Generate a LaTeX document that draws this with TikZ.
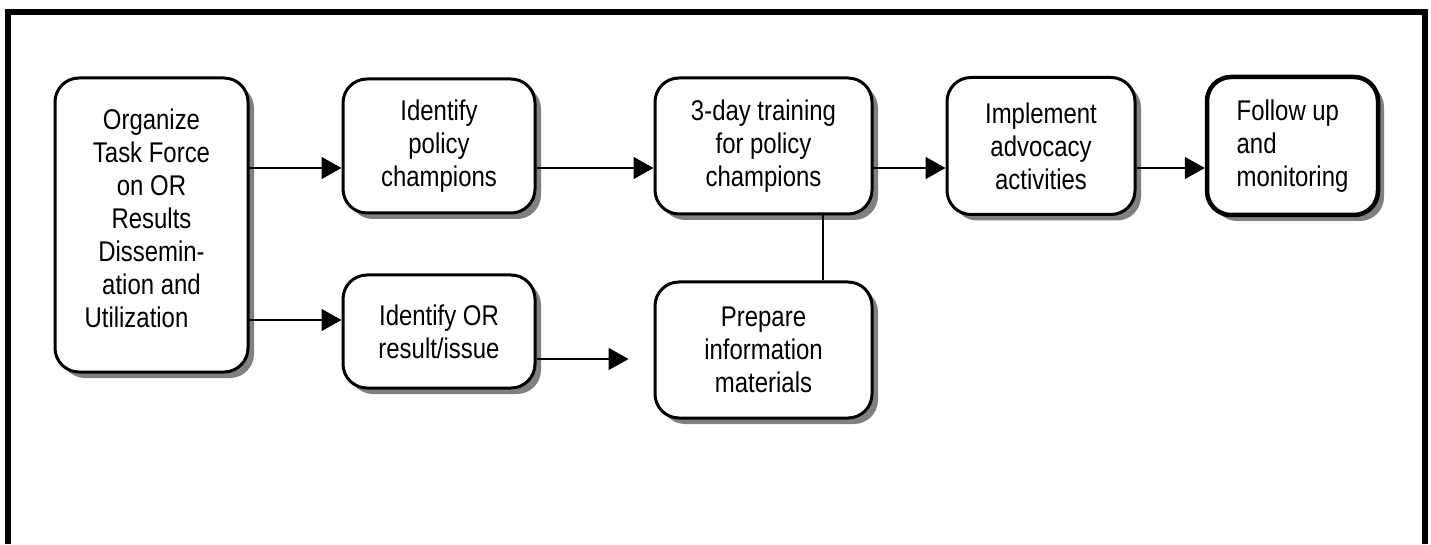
\documentclass[tikz,border=0pt]{standalone}
\usepackage{fontspec}
\setmainfont{Liberation Sans}[FakeStretch=0.84]
\usetikzlibrary{positioning,arrows.meta,shadows}

\begin{document}
\begin{tikzpicture}[x=1pt, y=1pt, node distance=20mm, block/.style={rectangle, rounded corners=24pt, draw, line width=3pt, fill=white, align=center, font=\fontsize{28.5}{33}\selectfont, drop shadow={shadow xshift=6pt, shadow yshift=-6pt, fill=black!50, opacity=1}}, flow/.style={-{Triangle[length=20pt,width=22pt]}, line width=1.4pt}]

    \useasboundingbox (0,0) rectangle (1431,544);
    \draw[line width=6pt] (7.5,0) -- (7.5,532) -- (1424.5,532) -- (1424.5,0);

    \node[block, minimum width=192pt, minimum height=134pt] (pol) at (439,398) {Identify\\policy\\champions};
    \node[block, minimum width=193pt, minimum height=294pt, left of=pol, node distance=287.5pt, yshift=-79pt] (org) {Organize\\Task Force\\on OR\\Results\\Dissemin-\\ation and\\Utilization\rule{30pt}{0pt}\\[-19pt]\mbox{}};
    \node[block, minimum width=192pt, minimum height=113pt, below of=pol, node distance=185.5pt] (res) {Identify OR\\result/issue};
    \node[block, minimum width=217pt, minimum height=136pt, right of=pol, node distance=324.5pt] (trn) {3-day training\\for policy\\champions};
    \node[block, minimum width=217pt, minimum height=136pt, below of=trn, node distance=204pt] (prep) {Prepare\\information\\materials};
    \node[block, minimum width=188pt, minimum height=137pt, right of=trn, node distance=277.5pt] (impl) {Implement\\advocacy\\activities};
    \node[block, line width=4.5pt, align=left, minimum width=171pt, minimum height=138pt, right of=impl, node distance=251.5pt] (fol) {Follow up\\and\\monitoring};

    \coordinate (r1) at ([yshift=-22pt]pol.west);
    \coordinate (r2) at ([yshift=11.5pt]res.west);
    \coordinate (gap) at ([xshift=-25pt, yshift=-9pt]prep.west);
    \coordinate (vl) at ([xshift=59.5pt]prep.north);

    \draw[flow] (org.east |- r1) -- (r1);
    \draw[flow] (org.east |- r2) -- (r2);
    \draw[flow] (pol.east |- r1) -- (trn.west |- r1);
    \draw[flow] (trn.east |- r1) -- (impl.west |- r1);
    \draw[flow] (impl.east |- r1) -- (fol.west |- r1);
    \draw[flow] (res.east |- gap) -- (gap);
    \draw[line width=1.4pt] (vl |- trn.south) -- (vl);

  \end{tikzpicture}
\end{document}
